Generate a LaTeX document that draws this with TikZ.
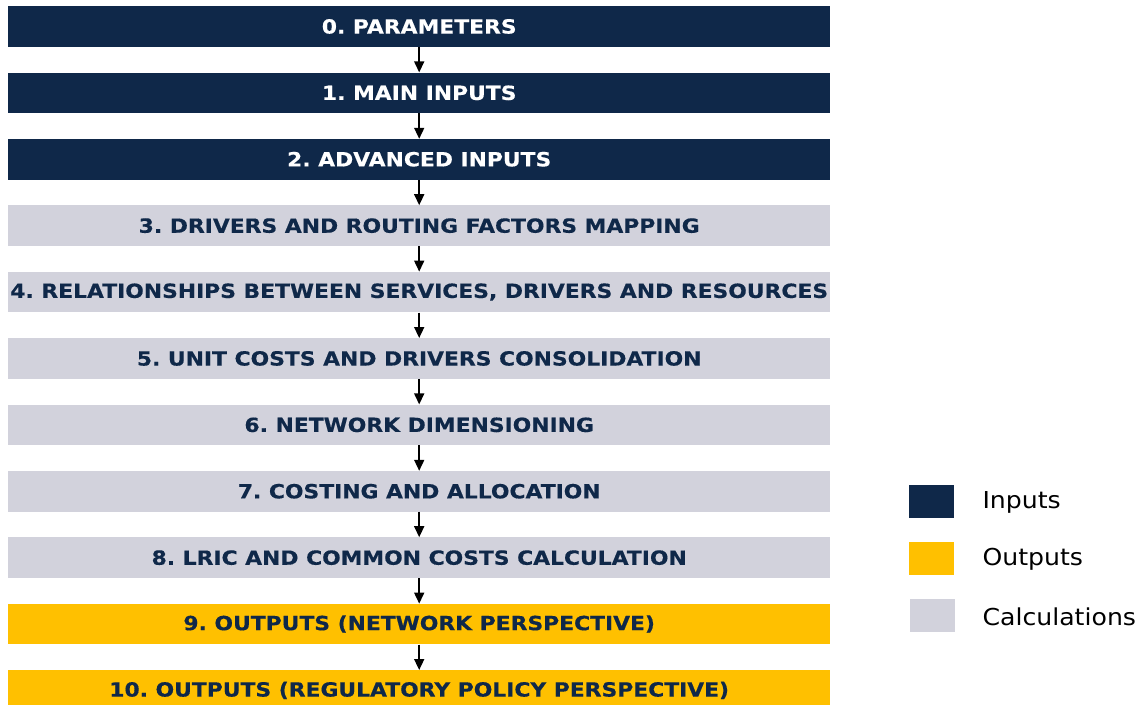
\documentclass[tikz,border=0pt]{standalone}
\usepackage{fontspec}
\setmainfont{DejaVu Sans}
\newfontfamily\stagefont[FakeStretch=1.12, BoldFeatures={FakeStretch=1.12, FakeBold=0.4}]{DejaVu Sans}
\newfontfamily\keyfont[FakeStretch=1.08]{DejaVu Sans}
\usetikzlibrary{positioning,arrows.meta}
\frenchspacing
\definecolor{inputc}{HTML}{0F2849}
\definecolor{outputc}{HTML}{FFC000}
\definecolor{calcc}{HTML}{D2D2DC}
\tikzset{
  stage/.style={
    minimum width=822pt,
    minimum height=40.5pt,
    inner sep=0pt,
    font=\stagefont\fontsize{19.5}{21}\selectfont\bfseries,
  },
  inputbox/.style={stage, fill=inputc, text=white},
  calcbox/.style={stage, fill=calcc, text=inputc},
  outputbox/.style={stage, fill=outputc, text=inputc},
  flow/.style={-{Triangle[width=10pt,length=11pt]}, line width=1.6pt},
  key/.style={minimum width=45pt, minimum height=33pt, inner sep=0pt},
  keytext/.style={anchor=west, font=\keyfont\fontsize{23.3}{25}\selectfont},
}

\begin{document}
\begin{tikzpicture}[x=1pt, y=1pt, node distance=25.5pt]
    \useasboundingbox (0,0) rectangle (1140,-704);

    % Stages
    \node[inputbox, anchor=north west] (p0) at (8,-6) {0. PARAMETERS};
    \node[inputbox, below=of p0] (p1) {1. MAIN INPUTS};
    \node[inputbox, below=of p1] (p2) {2. ADVANCED INPUTS};
    \node[calcbox, below=of p2] (p3) {3. DRIVERS AND ROUTING FACTORS MAPPING};
    \node[calcbox, below=of p3] (p4) {4. RELATIONSHIPS BETWEEN SERVICES, DRIVERS AND RESOURCES};
    \node[calcbox, below=of p4] (p5) {5. UNIT COSTS AND DRIVERS CONSOLIDATION};
    \node[calcbox, below=of p5] (p6) {6. NETWORK DIMENSIONING};
    \node[calcbox, below=of p6] (p7) {7. COSTING AND ALLOCATION};
    \node[calcbox, below=of p7] (p8) {8. LRIC AND COMMON COSTS CALCULATION};
    \node[outputbox, below=of p8] (p9) {9. OUTPUTS (NETWORK PERSPECTIVE)};
    \node[outputbox, below=of p9] (p10) {10. OUTPUTS (REGULATORY POLICY PERSPECTIVE)};

    % Arrows
    \draw[flow] (p0) -- (p1);
    \draw[flow] (p1) -- (p2);
    \draw[flow] (p2) -- (p3);
    \draw[flow] (p3) -- (p4);
    \draw[flow] (p4) -- (p5);
    \draw[flow] (p5) -- (p6);
    \draw[flow] (p6) -- (p7);
    \draw[flow] (p7) -- (p8);
    \draw[flow] (p8) -- (p9);
    \draw[flow] (p9) -- (p10);

    % Legend
    \node[key, fill=inputc] (kin) at (931,-501) {};
    \node[key, fill=outputc] (kout) at (931,-558) {};
    \node[key, fill=calcc] (kcalc) at (932,-615) {};
    \node[keytext] (tin) at (979,-502) {Inputs};
    \node[keytext] (tout) at (979,-559) {Outputs};
    \node[keytext] (tcalc) at (979,-617) {Calculations};
\end{tikzpicture}
\end{document}
